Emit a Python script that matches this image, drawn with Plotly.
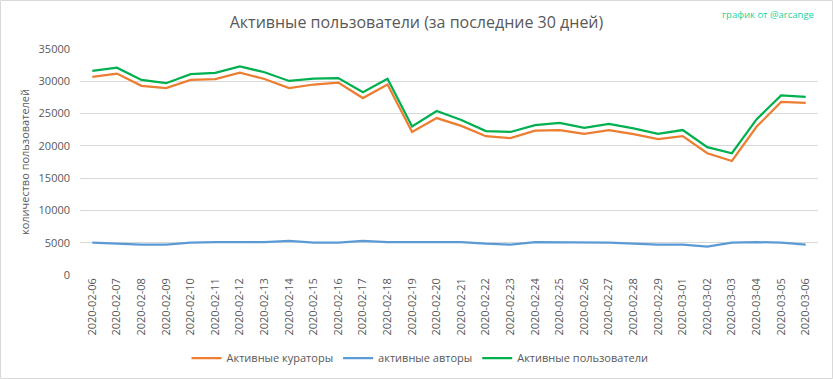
import plotly.graph_objects as go

dates = ["2020-02-06", "2020-02-07", "2020-02-08", "2020-02-09", "2020-02-10",
         "2020-02-11", "2020-02-12", "2020-02-13", "2020-02-14", "2020-02-15",
         "2020-02-16", "2020-02-17", "2020-02-18", "2020-02-19", "2020-02-20",
         "2020-02-21", "2020-02-22", "2020-02-23", "2020-02-24", "2020-02-25",
         "2020-02-26", "2020-02-27", "2020-02-28", "2020-02-29", "2020-03-01",
         "2020-03-02", "2020-03-03", "2020-03-04", "2020-03-05", "2020-03-06"]

curators = [30700, 31200, 29300, 28950, 30200, 30350, 31350, 30350, 28950, 29500,
            29800, 27400, 29500, 22150, 24300, 23100, 21500, 21200, 22350, 22450,
            21850, 22450, 21800, 21050, 21500, 18850, 17650, 22950, 26800, 26650]

authors = [5000, 4850, 4700, 4700, 5000, 5100, 5100, 5100, 5300, 5000,
           5000, 5300, 5100, 5100, 5100, 5100, 4850, 4700, 5100, 5100,
           5000, 5000, 4850, 4700, 4700, 4400, 5000, 5100, 5000, 4700]

users = [31600, 32100, 30200, 29700, 31100, 31300, 32300, 31400, 30050, 30400,
         30500, 28300, 30400, 23000, 25400, 24000, 22300, 22150, 23200, 23550,
         22800, 23400, 22700, 21850, 22450, 19800, 18850, 24100, 27800, 27600]

y_ticks = [0, 5000, 10000, 15000, 20000, 25000, 30000, 35000]

W, H = 833, 379
L, R, T, B = 80, 15, 49, 104
pw, ph = W - L - R, H - T - B

font = "Open Sans"
grey = "#595959"

fig = go.Figure()
fig.add_trace(go.Scatter(x=dates, y=curators, mode="lines", name="Активные кураторы",
                         line=dict(color="#ED7D31", width=2.25)))
fig.add_trace(go.Scatter(x=dates, y=authors, mode="lines", name="активные авторы",
                         line=dict(color="#5B9BD5", width=2.25)))
fig.add_trace(go.Scatter(x=dates, y=users, mode="lines", name="Активные пользователи",
                         line=dict(color="#00B050", width=2.25)))

fig.update_layout(
    width=W, height=H,
    margin=dict(l=L, r=R, t=T, b=B, autoexpand=False),
    paper_bgcolor="white", plot_bgcolor="white",
    font=dict(family=font, size=11, color=grey),
    title=dict(text="Активные пользователи (за последние 30 дней)",
               x=0.5, xref="container", xanchor="center",
               y=1 - 22 / H, yref="container", yanchor="middle",
               font=dict(family=font, size=16, color=grey)),
    showlegend=True,
    legend=dict(orientation="h", x=(420 - L) / pw, xanchor="center",
                y=(275 - 358) / ph, yanchor="middle",
                font=dict(family=font, size=11, color=grey),
                bgcolor="rgba(0,0,0,0)", itemwidth=30),
    xaxis=dict(type="category", range=[-0.5, len(dates) - 0.5], automargin=False,
               tickangle=-90, showgrid=False, showline=False, ticks="",
               tickfont=dict(family=font, size=11, color=grey)),
    yaxis=dict(range=[0, 35000], tickvals=y_ticks, automargin=False,
               ticktext=[str(v) for v in y_ticks], ticklabelstandoff=9,
               showgrid=True, gridcolor="#d9d9d9", gridwidth=1,
               zeroline=False, showline=False, ticks="",
               tickfont=dict(family=font, size=11, color=grey),
               title=dict(text="количество пользователей", standoff=6,
                          font=dict(family=font, size=11, color=grey))),
    annotations=[dict(text="график от @arcange", xref="paper", yref="paper",
                      x=(816 - L) / pw, xanchor="right",
                      y=(275 - 14) / ph, yanchor="middle", showarrow=False,
                      font=dict(family=font, size=9.5, color="#17D3A0"))],
    shapes=[dict(type="rect", xref="paper", yref="paper",
                 x0=(0.5 - L) / pw, x1=(832.5 - L) / pw,
                 y0=(275 - 378.5) / ph, y1=(275 - 0.5) / ph,
                 line=dict(color="#d9d9d9", width=1), layer="below")],
)

fig.write_html("out.html", config={"displayModeBar": False},
               post_script="document.body.style.margin='0';")
